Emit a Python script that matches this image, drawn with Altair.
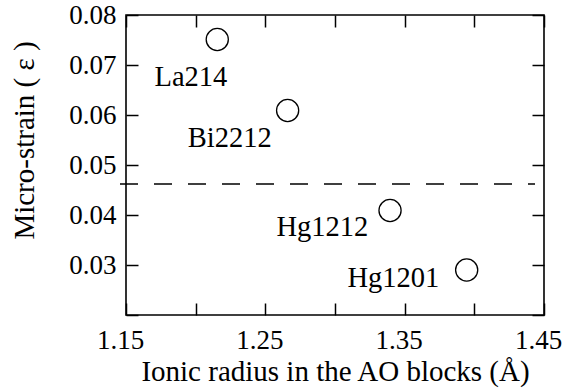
import altair as alt
import pandas as pd

# data
names = ["La214", "Bi2212", "Hg1212", "Hg1201"]
radius = [1.2155, 1.266, 1.3395, 1.3945]
strain = [0.0751, 0.0609, 0.0409, 0.0290]
label_x = [1.2227, 1.2546, 1.3239, 1.3749]
label_y = [0.0658, 0.05366, 0.0359, 0.02554]
threshold = [0.0462]
x_ticks = [1.15, 1.20, 1.25, 1.30, 1.35, 1.40, 1.45]
x_labels = [1.15, 1.25, 1.35, 1.45]
y_ticks = [0.02, 0.03, 0.04, 0.05, 0.06, 0.07, 0.08]

df = pd.DataFrame({"name": names, "r": radius, "s": strain, "lx": label_x, "ly": label_y})
thr = pd.DataFrame({"t": threshold})

FONT = "Liberation Serif"
TICK_FS = 27
TITLE_FS = 29
LABEL_FS = 28.5
TS = 12

xs = alt.Scale(domain=[1.15, 1.45], nice=False, zero=False)
ys = alt.Scale(domain=[0.02, 0.08], nice=False, zero=False)

label_expr = "indexof([" + ",".join(f"'{v:.2f}'" for v in x_labels) + "], datum.label) >= 0 ? datum.label : ''"

x_axis = alt.Axis(values=x_ticks, format=".2f", labelExpr=label_expr, orient="bottom",
                  offset=-TS, tickSize=TS, domain=False, grid=False, tickColor="black",
                  tickWidth=1.5, labelFont=FONT, labelFontSize=TICK_FS, labelColor="black",
                  labelPadding=12, labelOffset=-6, title="Ionic radius in the AO blocks (Å)",
                  titleFont=FONT, titleFontSize=TITLE_FS, titleFontWeight="normal",
                  titleColor="black", titlePadding=4, labelFlush=False, labelOverlap=False)
y_axis = alt.Axis(values=y_ticks, format=".2f",
                  labelExpr="datum.value < 0.025 ? '' : datum.label", orient="left",
                  offset=-TS, tickSize=TS, domain=False, grid=False, tickColor="black",
                  tickWidth=1.5, labelFont=FONT, labelFontSize=TICK_FS, labelColor="black",
                  labelPadding=10, title="Micro-strain  ( ε )", titleFont=FONT,
                  titleFontSize=TITLE_FS, titleFontWeight="normal", titleColor="black",
                  titleY=125, titlePadding=29, labelFlush=False, labelOverlap=False)
x_axis_top = alt.Axis(values=x_ticks, orient="top", offset=-TS, tickSize=TS, domain=False,
                      grid=False, labels=False, title=None, tickColor="black", tickWidth=1.5)
y_axis_right = alt.Axis(values=y_ticks, orient="right", offset=-TS, tickSize=TS, domain=False,
                        grid=False, labels=False, title=None, tickColor="black", tickWidth=1.5)

points = alt.Chart(df).mark_point(shape="circle", filled=False, size=490, stroke="black",
                                  strokeWidth=1.3, opacity=1).encode(
    x=alt.X("r:Q", scale=xs, axis=x_axis),
    y=alt.Y("s:Q", scale=ys, axis=y_axis),
)

labels = alt.Chart(df).mark_text(font=FONT, fontSize=LABEL_FS, align="right",
                                 baseline="alphabetic", color="black").encode(
    x=alt.X("lx:Q", scale=xs, axis=None),
    y=alt.Y("ly:Q", scale=ys, axis=None),
    text="name:N",
)

rule = alt.Chart(thr).mark_rule(color="black", strokeWidth=1.3, strokeDash=[18, 16]).encode(
    y=alt.Y("t:Q", scale=ys, axis=y_axis_right),
    x=alt.value(-6),
    x2=alt.value(409),
)

top = alt.Chart(thr).mark_point(opacity=0).encode(
    x=alt.X("t2:Q", scale=xs, axis=x_axis_top),
).transform_calculate(t2="1.3")

frame = alt.Chart(thr).mark_rect(filled=False, stroke="black", strokeWidth=1.6, fill=None).encode(
    x=alt.value(0), x2=alt.value(418), y=alt.value(0), y2=alt.value(300),
)

chart = alt.layer(points, labels, rule, top, frame).resolve_axis(x="independent", y="independent").properties(
    width=418, height=300,
    autosize=alt.AutoSizeParams(type="none"),
    padding={"left": 126, "top": 15, "right": 19, "bottom": 75},
    background="white",
).configure_view(stroke=None)

chart.save("out.html", embed_options={"renderer": "svg", "actions": False})
